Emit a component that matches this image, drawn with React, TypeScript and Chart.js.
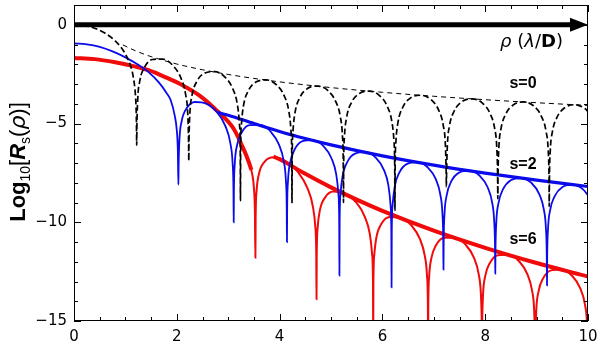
import React, { useEffect, useRef } from 'react';
import { Chart, registerables } from 'chart.js';

Chart.register(...registerables);

// ---- axes ----
const X_MIN = 0;
const X_MAX = 10;
const Y_MIN = -15;
const Y_MAX = 1;
const X_TICKS = [0, 2, 4, 6, 8, 10];
const Y_TICKS = [-15, -10, -5, 0];

// ---- s = 0 (black dashed) ----
const S0_CURVE: [number, number][] = [
  [0, 0], [0.2, -0.043], [0.4, -0.177], [0.6, -0.42], [0.8, -0.811], [0.9, -1.095], [1.0, -1.484], [1.1, -2.074], [1.15, -2.6], [1.2, -3.75], [1.21, -4.39], [1.215, -5.02], [1.2197, -6.1],
  [1.2238, -5.147], [1.24, -3.76], [1.2805, -2.841], [1.3717, -2.152], [1.5237, -1.76], [1.7264, -1.738], [1.9291, -2.076], [2.0811, -2.704], [2.1723, -3.535], [2.2128, -4.516], [2.229, -5.929], [2.2331, -6.9],
  [2.2371, -5.934], [2.2532, -4.542], [2.2934, -3.611], [2.3839, -2.895], [2.5347, -2.457], [2.7357, -2.374], [2.9367, -2.651], [3.0875, -3.233], [3.178, -4.037], [3.2182, -5.006], [3.2343, -6.414], [3.2383, -8.9],
  [3.2423, -6.417], [3.2584, -5.023], [3.2985, -4.087], [3.3887, -3.359], [3.5391, -2.902], [3.7397, -2.792], [3.9403, -3.042], [4.0907, -3.605], [4.1809, -4.397], [4.221, -5.361], [4.2371, -6.767], [4.2411, -9.0],
  [4.2451, -6.769], [4.2611, -5.374], [4.3012, -4.435], [4.3914, -3.699], [4.5416, -3.231], [4.742, -3.106], [4.9423, -3.341], [5.0925, -3.893], [5.1827, -4.677], [5.2227, -5.638], [5.2387, -7.043], [5.2428, -9.0],
  [5.2468, -7.045], [5.2628, -5.649], [5.3029, -4.708], [5.393, -3.968], [5.5431, -3.492], [5.7434, -3.358], [5.9436, -3.584], [6.0937, -4.128], [6.1838, -4.908], [6.2238, -5.867], [6.2399, -7.271], [6.2439, -9.4],
  [6.2479, -7.273], [6.2639, -5.876], [6.304, -4.934], [6.394, -4.191], [6.5442, -3.71], [6.7444, -3.569], [6.9445, -3.787], [7.0947, -4.326], [7.1847, -5.103], [7.2248, -6.061], [7.2408, -7.464], [7.2448, -8.2],
  [7.2488, -7.466], [7.2648, -6.068], [7.3048, -5.125], [7.3949, -4.38], [7.545, -3.896], [7.7451, -3.75], [7.9452, -3.963], [8.0953, -4.499], [8.1854, -5.274], [8.2254, -6.231], [8.2414, -7.633], [8.2454, -8.8],
  [8.2494, -7.635], [8.2654, -6.237], [8.3054, -5.293], [8.3955, -4.546], [8.5456, -4.059], [8.7457, -3.909], [8.9458, -4.118], [9.0958, -4.651], [9.1859, -5.424], [9.2259, -6.38], [9.2419, -7.782], [9.2459, -9.2],
  [9.2499, -7.784], [9.2659, -6.386], [9.3059, -5.441], [9.396, -4.693], [9.5461, -4.203], [9.7462, -4.05], [9.9463, -4.257], [10, -4.396],
];
const S0_ENVELOPE: [number, number][] = [
  [0.95, -1.019], [1.2, -1.323], [1.5, -1.614], [2, -1.989], [2.5, -2.279], [3, -2.517], [3.5, -2.718], [4, -2.892], [5, -3.182], [6, -3.42], [7, -3.621], [8, -3.795], [9, -3.948], [10, -4.085],
];

// ---- s = 2 (blue) ----
const S2_CURVE: [number, number][] = [
  [0, -0.95], [0.25, -0.99], [0.5, -1.12], [0.75, -1.35], [1.0, -1.65], [1.25, -2.03], [1.45, -2.4], [1.65, -2.92], [1.8, -3.45], [1.88, -3.81], [1.96, -4.6], [2.0, -5.35], [2.02, -6.35], [2.031, -8.1],
  [2.0353, -7.149], [2.0525, -5.77], [2.0956, -4.872], [2.1924, -4.228], [2.3538, -3.912], [2.569, -3.99], [2.7842, -4.428], [2.9456, -5.132], [3.0424, -6.008], [3.0855, -7.01], [3.1027, -8.431], [3.107, -10.0],
  [3.1111, -8.44], [3.1277, -7.054], [3.1692, -6.139], [3.2624, -5.457], [3.4178, -5.079], [3.625, -5.074], [3.8322, -5.429], [3.9876, -6.07], [4.0808, -6.909], [4.1223, -7.894], [4.1389, -9.308], [4.143, -11.0],
  [4.1471, -9.314], [4.1634, -7.924], [4.2043, -7.001], [4.2962, -6.302], [4.4493, -5.892], [4.6535, -5.846], [4.8577, -6.16], [5.0109, -6.771], [5.1027, -7.591], [5.1436, -8.568], [5.1599, -9.978], [5.164, -12.7],
  [5.1681, -9.983], [5.1843, -8.592], [5.2248, -7.664], [5.3161, -6.953], [5.4682, -6.525], [5.671, -6.454], [5.8738, -6.743], [6.0259, -7.334], [6.1172, -8.143], [6.1577, -9.115], [6.1739, -10.524], [6.178, -13.3],
  [6.182, -10.528], [6.1982, -9.135], [6.2386, -8.204], [6.3295, -7.485], [6.481, -7.044], [6.683, -6.956], [6.885, -7.228], [7.0365, -7.807], [7.1274, -8.608], [7.1678, -9.577], [7.184, -10.984], [7.188, -12.4],
  [7.192, -10.988], [7.2082, -9.594], [7.2485, -8.66], [7.3392, -7.936], [7.4904, -7.486], [7.692, -7.386], [7.8936, -7.645], [8.0448, -8.215], [8.1355, -9.011], [8.1758, -9.977], [8.192, -11.383], [8.196, -12.6],
  [8.2, -11.386], [8.2161, -9.992], [8.2564, -9.056], [8.3469, -8.328], [8.4978, -7.871], [8.699, -7.761], [8.9002, -8.011], [9.0511, -8.574], [9.1416, -9.366], [9.1818, -10.33], [9.198, -11.736], [9.202, -13.2],
  [9.206, -11.738], [9.2221, -10.343], [9.2622, -9.406], [9.3525, -8.674], [9.5029, -8.212], [9.7035, -8.095], [9.9041, -8.338], [10, -8.634],
];
const S2_ENVELOPE: [number, number][] = [
  [2.8, -4.45], [3.0, -4.58], [3.5, -5.0], [4, -5.405], [4.5, -5.762], [5, -6.083], [6, -6.637], [7, -7.106], [8, -7.512], [9, -7.869], [10, -8.19],
];

// ---- s = 6 (red) ----
const S6_CURVE: [number, number][] = [
  [0, -1.68], [0.4, -1.74], [0.8, -1.9], [1.2, -2.12], [1.45, -2.3], [1.8, -2.68], [2.1, -3.05], [2.45, -3.6], [2.78, -4.35], [3.1, -5.24], [3.3, -6.3], [3.4, -6.95], [3.47, -7.6], [3.5, -8.25], [3.52, -9.5], [3.529, -11.8],
  [3.5338, -9.772], [3.5528, -8.402], [3.6003, -7.528], [3.7074, -6.938], [3.8857, -6.712], [4.1235, -6.911], [4.3613, -7.469], [4.5397, -8.263], [4.6467, -9.193], [4.6942, -10.219], [4.7132, -11.649], [4.718, -13.9],
  [4.7224, -11.662], [4.7401, -10.284], [4.7842, -9.389], [4.8835, -8.752], [5.0489, -8.447], [5.2695, -8.541], [5.4901, -8.995], [5.6556, -9.71], [5.7548, -10.593], [5.799, -11.598], [5.8166, -13.02], [5.821, -16],
  [5.8253, -13.029], [5.8424, -11.647], [5.8851, -10.741], [5.9812, -10.08], [6.1414, -9.734], [6.355, -9.774], [6.5686, -10.173], [6.7288, -10.847], [6.8249, -11.706], [6.8677, -12.7], [6.8847, -14.118], [6.889, -16],
  [6.8932, -14.126], [6.91, -12.74], [6.9519, -11.827], [7.0462, -11.151], [7.2034, -10.779], [7.413, -10.784], [7.6226, -11.149], [7.7798, -11.797], [7.8741, -12.641], [7.916, -13.628], [7.9328, -15.042], [7.937, -16],
  [7.9411, -15.049], [7.9577, -13.662], [7.9992, -12.744], [8.0924, -12.056], [8.2478, -11.665], [8.455, -11.645], [8.6622, -11.985], [8.8176, -12.614], [8.9108, -13.446], [8.9523, -14.428], [8.9689, -15.841], [8.973, -16],
  [8.9771, -15.847], [8.9936, -14.458], [9.0347, -13.536], [9.1274, -12.84], [9.2817, -12.436], [9.4875, -12.398], [9.6933, -12.72], [9.8477, -13.336], [9.9403, -14.16], [9.9814, -15.138], [9.998, -16.549], [10, -17],
];
const S6_MAIN_LOBE: [number, number][] = [
  [0, -1.68], [0.4, -1.74], [0.8, -1.9], [1.2, -2.12], [1.45, -2.3], [1.8, -2.68], [2.1, -3.05], [2.45, -3.6], [2.78, -4.35], [3.1, -5.24], [3.3, -6.3], [3.4, -6.95], [3.45, -7.35],
];
const S6_ENVELOPE: [number, number][] = [
  [3.88, -6.68], [4, -6.81], [4.5, -7.548], [5, -8.235], [5.5, -8.856], [6, -9.423], [7, -10.426], [8, -11.296], [9, -12.064], [10, -12.75],
];

// ---- text ----
const CURVE_LABELS = [
  { text: 's=0', x: 8.735, y: -3.0 },
  { text: 's=2', x: 8.735, y: -7.1 },
  { text: 's=6', x: 8.735, y: -10.88 },
];
const ARROW_LABEL = { x: 8.29, y: -0.87 };

const BLACK = '#000000';
const BLUE = 'rgb(10,10,235)';
const RED = 'rgb(240,10,10)';

const fmt = (v: number) => (v < 0 ? '\u2212' + Math.abs(v) : String(v));

const mk = (pts: [number, number][], color: string, width: number, dash?: number[]) => ({
  data: pts.map(([x, y]) => ({ x, y })),
  showLine: true,
  borderColor: color,
  backgroundColor: color,
  borderWidth: width,
  borderDash: dash || [],
  pointRadius: 0,
  pointHoverRadius: 0,
  cubicInterpolationMode: 'monotone' as const,
  fill: false,
  clip: 0,
});

const decorPlugin = {
  id: 'decor',
  afterDatasetsDraw(chart: any) {
    const { ctx, chartArea, scales } = chart;
    const xs = scales.x;
    const ys = scales.y;
    const { left, right, top, bottom } = chartArea;
    ctx.save();

    // arrow along y = 0
    const y0 = ys.getPixelForValue(0);
    const xa = xs.getPixelForValue(X_MIN);
    const xb = xs.getPixelForValue(X_MAX);
    ctx.strokeStyle = BLACK;
    ctx.fillStyle = BLACK;
    ctx.lineWidth = 5;
    ctx.beginPath();
    ctx.moveTo(xa, y0);
    ctx.lineTo(xb - 14, y0);
    ctx.stroke();
    ctx.beginPath();
    ctx.moveTo(xb, y0);
    ctx.lineTo(xb - 18, y0 - 7);
    ctx.lineTo(xb - 18, y0 + 7);
    ctx.closePath();
    ctx.fill();

    // frame
    ctx.lineWidth = 1;
    ctx.strokeRect(Math.round(left) + 0.5, Math.round(top) + 0.5, Math.round(right - left) - 1, Math.round(bottom - top) - 1);

    // inward ticks
    ctx.beginPath();
    for (let i = 0; i <= 20; i++) {
      const v = X_MIN + i * 0.5;
      const px = Math.round(xs.getPixelForValue(v)) + 0.5;
      const len = i % 4 === 0 ? 7 : 4;
      ctx.moveTo(px, bottom);
      ctx.lineTo(px, bottom - len);
      ctx.moveTo(px, top);
      ctx.lineTo(px, top + len);
    }
    for (let v = Y_MIN; v <= Y_MAX; v++) {
      const py = Math.round(ys.getPixelForValue(v)) + 0.5;
      const len = v % 5 === 0 ? 7 : 4;
      ctx.moveTo(left, py);
      ctx.lineTo(left + len, py);
      ctx.moveTo(right, py);
      ctx.lineTo(right - len, py);
    }
    ctx.stroke();

    // curve labels
    ctx.textAlign = 'center';
    ctx.textBaseline = 'middle';
    ctx.font = 'bold 16px "Liberation Sans", Arial, sans-serif';
    for (const l of CURVE_LABELS) {
      ctx.fillText(l.text, xs.getPixelForValue(l.x), ys.getPixelForValue(l.y));
    }

    // arrow label  ρ (λ/D)
    const parts1 = [
      { t: '\u03C1', f: 'italic 18px "DejaVu Sans", sans-serif' },
      { t: ' (', f: '18px "DejaVu Sans", sans-serif' },
      { t: '\u03BB', f: 'italic 18px "DejaVu Sans", sans-serif' },
      { t: '/', f: '18px "DejaVu Sans", sans-serif' },
      { t: 'D', f: 'bold 18px "DejaVu Sans", sans-serif' },
      { t: ')', f: '18px "DejaVu Sans", sans-serif' },
    ];
    ctx.textAlign = 'left';
    ctx.textBaseline = 'middle';
    let cx = xs.getPixelForValue(ARROW_LABEL.x);
    const cy = ys.getPixelForValue(ARROW_LABEL.y);
    for (const p of parts1) {
      ctx.font = p.f;
      ctx.fillText(p.t, cx, cy);
      cx += ctx.measureText(p.t).width;
    }

    // y title
    const parts2 = [
      { t: 'Log', f: 'bold 22px "Liberation Sans", Arial, sans-serif', dy: 0 },
      { t: '10', f: '14px "Liberation Sans", Arial, sans-serif', dy: 5 },
      { t: '[', f: '22px "Liberation Sans", Arial, sans-serif', dy: 0 },
      { t: 'R', f: 'italic bold 22px "Liberation Sans", Arial, sans-serif', dy: 0 },
      { t: 's', f: '14px "Liberation Sans", Arial, sans-serif', dy: 5 },
      { t: '(', f: '22px "Liberation Sans", Arial, sans-serif', dy: 0 },
      { t: '\u03C1', f: 'italic 22px "DejaVu Sans", sans-serif', dy: 0 },
      { t: ')]', f: '22px "Liberation Sans", Arial, sans-serif', dy: 0 },
    ];
    let total = 0;
    for (const p of parts2) {
      ctx.font = p.f;
      total += ctx.measureText(p.t).width;
    }
    ctx.translate(25, 162);
    ctx.rotate(-Math.PI / 2);
    ctx.textBaseline = 'alphabetic';
    let tx = -total / 2;
    for (const p of parts2) {
      ctx.font = p.f;
      ctx.fillText(p.t, tx, p.dy);
      tx += ctx.measureText(p.t).width;
    }
    ctx.restore();
  },
};

export default function App() {
  const ref = useRef<HTMLCanvasElement | null>(null);
  useEffect(() => {
    document.body.style.margin = '0';
    const canvas = ref.current;
    if (!canvas) return;
    const chart = new Chart(canvas, {
      type: 'scatter',
      data: {
        datasets: [
          mk(S0_CURVE, BLACK, 1.7, [6, 3]),
          mk(S0_ENVELOPE, BLACK, 1, [5, 4]),
          mk(S2_CURVE, BLUE, 1.8),
          mk(S2_ENVELOPE, BLUE, 3.2),
          mk(S6_ENVELOPE, RED, 4),
          mk(S6_MAIN_LOBE, RED, 4),
          mk(S6_CURVE, RED, 2),
        ] as any,
      },
      options: {
        animation: false,
        responsive: false,
        devicePixelRatio: 1,
        events: [],
        layout: { padding: { top: 5, right: 12, left: 0, bottom: 0 } },
        plugins: { legend: { display: false }, tooltip: { enabled: false } },
        scales: {
          x: {
            type: 'linear',
            min: X_MIN,
            max: X_MAX,
            afterBuildTicks: (s: any) => {
              s.ticks = X_TICKS.map((v) => ({ value: v }));
            },
            afterFit: (s: any) => {
              s.height = 26;
              s.paddingLeft = 0;
              s.paddingRight = 0;
            },
            grid: { display: false, drawTicks: false },
            border: { display: false },
            ticks: {
              autoSkip: false,
              maxRotation: 0,
              padding: 7,
              color: BLACK,
              font: { family: '"DejaVu Sans", sans-serif', size: 15 },
              callback: (v: any) => fmt(Number(v)),
            },
          },
          y: {
            type: 'linear',
            min: Y_MIN,
            max: Y_MAX,
            afterBuildTicks: (s: any) => {
              s.ticks = Y_TICKS.map((v) => ({ value: v }));
            },
            afterFit: (s: any) => {
              s.width = 74;
              s.paddingTop = 0;
              s.paddingBottom = 0;
            },
            grid: { display: false, drawTicks: false },
            border: { display: false },
            ticks: {
              autoSkip: false,
              padding: 7,
              color: BLACK,
              font: { family: '"DejaVu Sans", sans-serif', size: 15 },
              callback: (v: any) => fmt(Number(v)),
            },
          },
        },
      } as any,
      plugins: [decorPlugin],
    });
    return () => chart.destroy();
  }, []);
  return (
    <div style={{ width: 600, height: 347 }}>
      <canvas ref={ref} width={600} height={347} style={{ display: 'block', width: 600, height: 347 }} />
    </div>
  );
}
